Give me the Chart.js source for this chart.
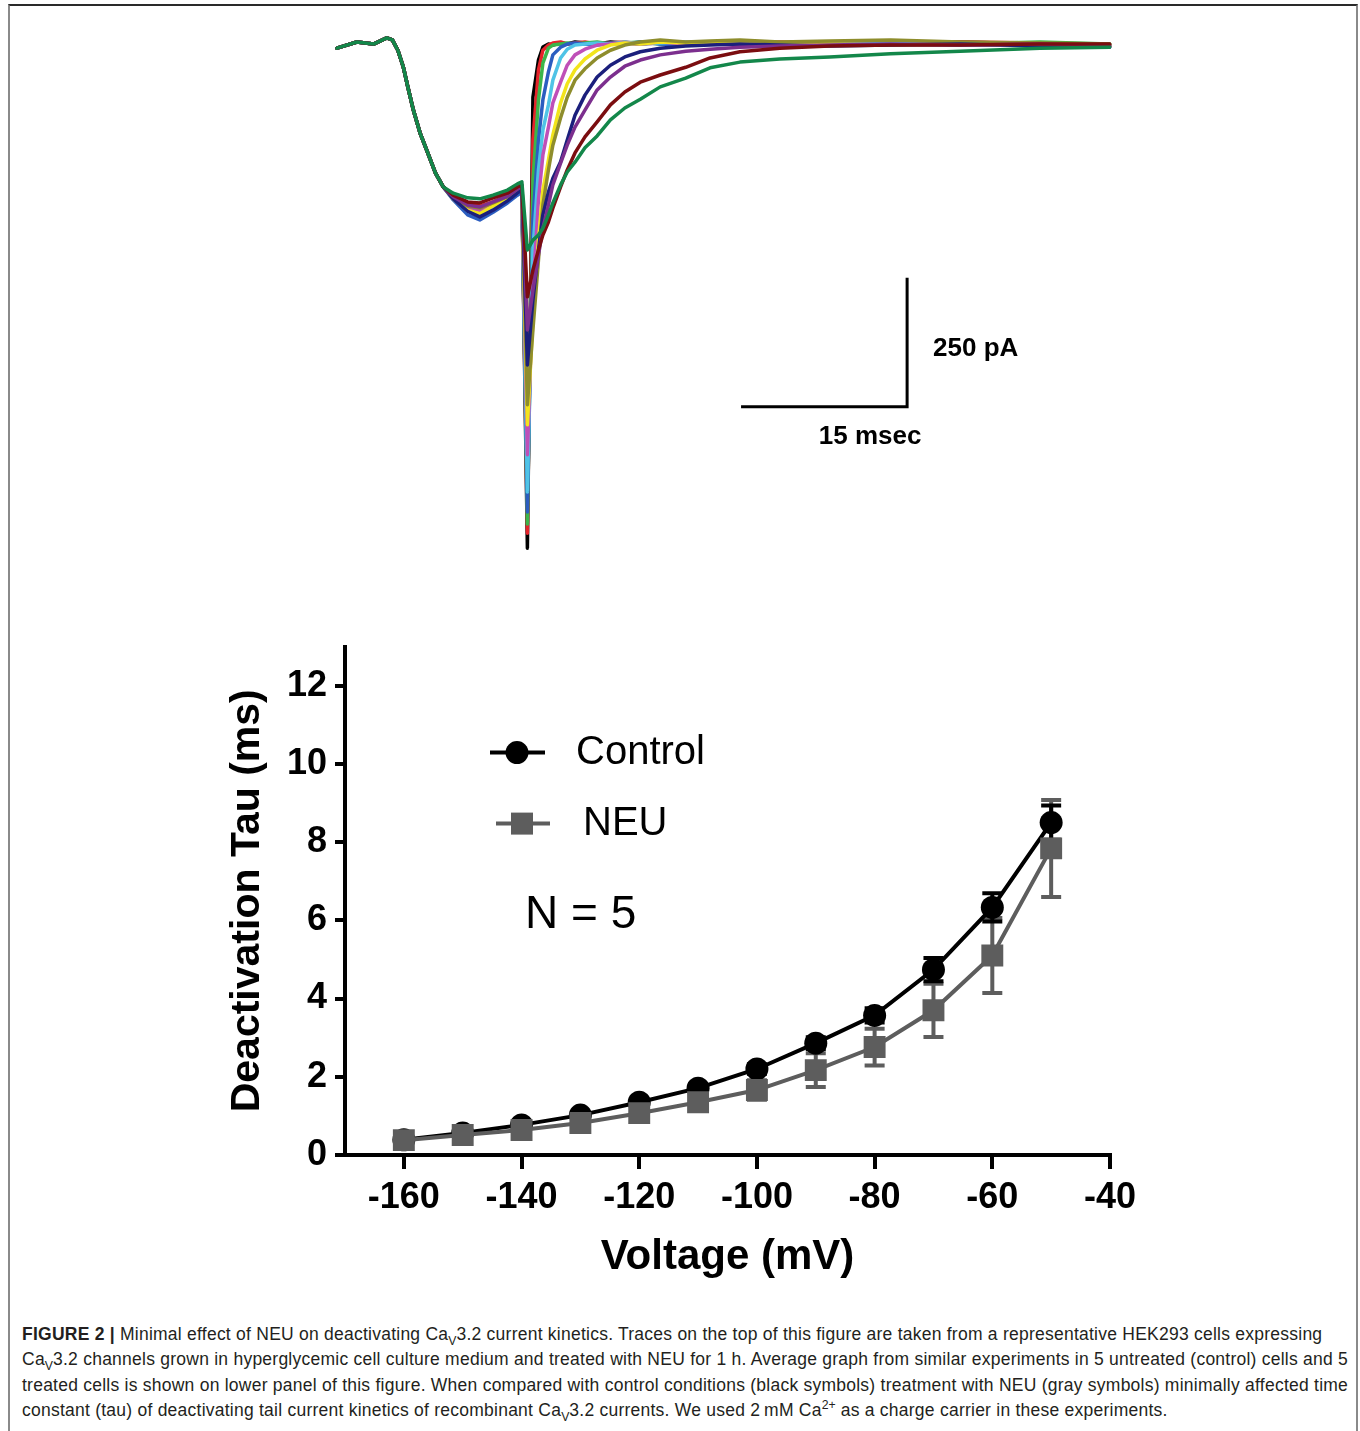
<!DOCTYPE html>
<html>
<head>
<meta charset="utf-8">
<script src="https://cdn.jsdelivr.net/npm/chart.js@4.4.1/dist/chart.umd.min.js"></script>
<style>
  html, body { margin: 0; padding: 0; background: #fff; }
  body { width: 1360px; height: 1431px; position: relative; overflow: hidden; font-family: 'Liberation Sans', Arial, sans-serif; }
  #frame { position: absolute; left: 8px; top: 4px; width: 1346px; height: 1460px; border: 2px solid #8a8a8a; border-top-color: #2a2a2a; }
  #traces { position: absolute; left: 330px; top: 20px; }
  #tau { position: absolute; left: 200px; top: 617px; }
  #caption { position: absolute; left: 22px; top: 1322px; font-size: 17.5px; letter-spacing: 0.24px; line-height: 25.3px; color: #231f20; white-space: nowrap; }
  #caption sub, #caption sup { font-size: 70%; line-height: 0; letter-spacing: 0; }
</style>
</head>
<body>
<div id="frame"></div>
<canvas id="traces" width="790" height="540"></canvas>
<canvas id="tau" width="960" height="673"></canvas>
<div id="caption">
  <b>FIGURE 2 |</b> Minimal effect of NEU on deactivating Ca<sub>V</sub>3.2 current kinetics. Traces on the top of this figure are taken from a representative HEK293 cells expressing<br>
  Ca<sub>V</sub>3.2 channels grown in hyperglycemic cell culture medium and treated with NEU for 1 h. Average graph from similar experiments in 5 untreated (control) cells and 5<br>
  treated cells is shown on lower panel of this figure. When compared with control conditions (black symbols) treatment with NEU (gray symbols) minimally affected time<br>
  constant (tau) of deactivating tail current kinetics of recombinant Ca<sub>V</sub>3.2 currents. We used 2&#8201;mM Ca<sup>2+</sup> as a charge carrier in these experiments.
</div>
<script>
// ── top panel: tail current sweeps ────────────────────────────
// sample times (ms): activation, plateau, tail peak, decay
const timeMs = [0, 1.8, 3.3, 4.5, 5.0, 5.5, 6.0, 6.4, 6.9, 7.5, 8.2, 8.9, 9.6,
  10.5, 11.8, 12.9, 14.1, 15.4, 16.3, 16.7, 17.2,
  17.7, 18.2, 18.6, 19.1, 19.5, 20.2, 20.8, 21.5, 22.4, 23.5, 24.7, 26.0, 27.4,
  29.2, 31.5, 33.7, 36.4, 40.0, 44.5, 50.0, 56.3, 63.5, 69.8];
// activation phase, common to every sweep (pA)
const onsetPA = [-10, 2, -2, 10, 6, -14, -47, -85, -130, -174, -213, -252, -279];

// plateau + tail, one array per repolarisation step (pA)
const tailM50 = [-291, -300, -302, -295, -285, -273, -269, -401,
  -382, -372, -359, -333, -310, -275, -250, -231, -203, -180, -149, -126, -109, -85, -68, -48, -37, -31, -27, -21, -16, -10, -8];
const tailM60 = [-295, -308, -310, -300, -291, -279, -275, -492,
  -440, -401, -372, -347, -320, -279, -246, -213, -182, -153, -120, -95, -76, -62, -47, -29, -17, -10, -6, -4, -4, -2, -2];
const tailM70 = [-298, -314, -318, -308, -297, -283, -279, -556,
  -479, -411, -359, -314, -275, -233, -198, -163, -130, -91, -66, -45, -33, -23, -16, -12, -8, -6, -4, -2, -4, -2, -6];
const tailM80 = [-302, -326, -337, -324, -306, -291, -285, -624,
  -498, -401, -333, -289, -262, -230, -188, -140, -101, -66, -43, -27, -17, -10, -6, -4, -2, -4, -6, -4, -2, -6, -8];
const tailM90 = [-298, -316, -320, -310, -298, -285, -281, -701,
  -556, -421, -314, -246, -198, -145, -105, -72, -50, -29, -14, -4, 2, 6, 2, 4, 6, 2, 4, 6, 2, 0, -2];
const tailM100 = [-302, -324, -331, -316, -302, -289, -283, -740,
  -537, -382, -285, -227, -178, -116, -79, -52, -31, -14, -4, 0, -2, 2, 0, -2, 2, 0, -2, -4, -2, -4, -6];
const tailM110 = [-300, -320, -324, -314, -300, -287, -283, -798,
  -479, -304, -217, -163, -116, -76, -43, -23, -12, -4, -2, 0, -2, 2, -2, 0, -2, 0, -2, -4, -2, -4, -6];
const tailM120 = [-302, -326, -335, -322, -304, -291, -285, -870,
  -401, -246, -169, -120, -72, -29, -12, -4, -2, 0, -2, 2, -2, 0, 2, -2, 0, -4, -2, 0, -2, -4, -6];
const tailM130 = [-304, -333, -343, -328, -310, -295, -289, -909,
  -343, -188, -110, -56, -23, -8, -2, 0, -2, -4, 0, -2, 2, -2, -4, 0, -2, -4, 0, -2, -4, -2, -6];
const tailM140 = [-297, -316, -324, -314, -298, -285, -281, -932,
  -266, -110, -39, -10, -4, -2, 0, -2, 0, 2, -2, 0, 2, -2, 0, 2, -2, 0, 2, 0, -2, 2, -2];
const tailM150 = [-297, -312, -316, -308, -295, -283, -279, -950,
  -188, -52, -14, -4, 0, 2, -2, 0, 2, -2, 0, 2, -2, 0, 2, -2, 0, 2, 0, -2, 2, 0, -4];
const tailM160 = [-298, -314, -320, -310, -297, -285, -281, -979,
  -105, -33, -8, -2, -4, 0, -2, 2, 0, -2, 2, 0, -2, 2, 0, -2, 2, 0, -2, 0, 2, -2, -4];

const sweepTails = [tailM50, tailM60, tailM70, tailM80, tailM90, tailM100, tailM110, tailM120, tailM130, tailM140, tailM150, tailM160];
const sweepColors = ['#13874a', '#7b0d10', '#7c2f8e', '#1b1f7c', '#8e8d2c', '#f2e41c', '#bf4fb8', '#4fc3e6', '#2b5dc0', '#3bb54a', '#e5232a', '#000000'];

// scale bar: 15 ms x 250 pA, corner anchored at (ms, pA)
const barMs = 15, barPA = 250, barCornerMs = 51.5, barCornerPA = -705;

const sweepSets = sweepTails.map((tail, k) => ({
  data: timeMs.map((t, i) => ({ x: t, y: i < onsetPA.length ? onsetPA[i] : tail[i - onsetPA.length] })),
  borderColor: sweepColors[k], borderWidth: 3.5, pointRadius: 0
}));
const barSet = {
  data: [{ x: barCornerMs - barMs, y: barCornerPA }, { x: barCornerMs, y: barCornerPA }, { x: barCornerMs, y: barCornerPA + barPA }],
  borderColor: '#000', borderWidth: 3, pointRadius: 0, borderJoinStyle: 'miter', borderCapStyle: 'butt'
};

const barLabels = {
  id: 'barLabels',
  afterDatasetsDraw(chart) {
    const { ctx, scales: { x, y } } = chart;
    const cx = x.getPixelForValue(barCornerMs), cy = y.getPixelForValue(barCornerPA);
    const topY = y.getPixelForValue(barCornerPA + barPA);
    ctx.save();
    ctx.fillStyle = '#000';
    ctx.font = "bold 26px 'Liberation Sans', Arial, sans-serif";
    ctx.textBaseline = 'middle';
    ctx.textAlign = 'left';
    ctx.fillText(barPA + ' pA', cx + 26, (cy + topY) / 2 + 7);
    ctx.textAlign = 'center';
    ctx.fillText(barMs + ' msec', cx - 37, cy + 30);
    ctx.restore();
  }
};

new Chart(document.getElementById('traces'), {
  type: 'line',
  data: { datasets: [...sweepSets, barSet] },
  options: {
    responsive: false, animation: false, events: [],
    layout: { padding: 0 },
    plugins: { legend: { display: false }, tooltip: { enabled: false } },
    elements: { line: { tension: 0, borderJoinStyle: 'round', borderCapStyle: 'round' } },
    scales: {
      x: { type: 'linear', display: false, min: -0.63, max: 70.73 },
      y: { type: 'linear', display: false, min: -1002, max: 44.6 }
    }
  },
  plugins: [barLabels]
});

// ── bottom panel: deactivation tau vs voltage ────────────────
const voltages = [-160, -150, -140, -130, -120, -110, -100, -90, -80, -70, -60, -50];
const tauControl = [0.39, 0.56, 0.77, 1.02, 1.35, 1.71, 2.20, 2.86, 3.57, 4.74, 6.33, 8.50];
const semControl = [0.04, 0.04, 0.05, 0.06, 0.08, 0.10, 0.12, 0.15, 0.18, 0.30, 0.36, 0.44];
const tauNEU = [0.38, 0.51, 0.64, 0.82, 1.07, 1.35, 1.66, 2.17, 2.76, 3.70, 5.10, 7.84];
const semNEU = [0.05, 0.05, 0.06, 0.08, 0.10, 0.15, 0.25, 0.43, 0.47, 0.68, 0.96, 1.24];
const nCells = 5;

const errorBars = {
  id: 'errorBars',
  beforeDatasetsDraw(chart) {
    const { ctx, scales: { x, y } } = chart;
    chart.data.datasets.forEach(ds => {
      ctx.save();
      ctx.strokeStyle = ds.borderColor;
      ctx.lineWidth = 4;
      ds.data.forEach((p, i) => {
        const px = x.getPixelForValue(p.x);
        const hi = y.getPixelForValue(p.y + ds.sem[i]), lo = y.getPixelForValue(p.y - ds.sem[i]);
        ctx.beginPath();
        ctx.moveTo(px, hi); ctx.lineTo(px, lo);
        ctx.moveTo(px - 10, hi); ctx.lineTo(px + 10, hi);
        ctx.moveTo(px - 10, lo); ctx.lineTo(px + 10, lo);
        ctx.stroke();
      });
      ctx.restore();
    });
  }
};

const tauLegend = {
  id: 'tauLegend',
  afterDraw(chart) {
    const { ctx, chartArea: { left: L, top: T } } = chart;
    ctx.save();
    ctx.lineWidth = 4;
    // Control
    ctx.strokeStyle = '#000'; ctx.fillStyle = '#000';
    ctx.beginPath(); ctx.moveTo(L + 145, T + 106); ctx.lineTo(L + 200, T + 106); ctx.stroke();
    ctx.beginPath(); ctx.arc(L + 172, T + 106, 11.5, 0, Math.PI * 2); ctx.fill();
    // NEU
    ctx.strokeStyle = '#5d5d5d'; ctx.fillStyle = '#5d5d5d';
    ctx.beginPath(); ctx.moveTo(L + 151, T + 177); ctx.lineTo(L + 205, T + 177); ctx.stroke();
    ctx.fillRect(L + 166, T + 166, 22, 22);
    ctx.fillStyle = '#000';
    ctx.textBaseline = 'middle'; ctx.textAlign = 'left';
    ctx.font = "40px 'Liberation Sans', Arial, sans-serif";
    ctx.fillText('Control', L + 231, T + 106);
    ctx.fillText('NEU', L + 238, T + 177);
    ctx.font = "46px 'Liberation Sans', Arial, sans-serif";
    ctx.fillText('N = ' + nCells, L + 180, T + 269);
    ctx.restore();
  }
};

const boldTick = { size: 36, weight: 'bold', family: "'Liberation Sans', Arial, sans-serif" };

new Chart(document.getElementById('tau'), {
  type: 'line',
  data: {
    datasets: [
      {
        label: 'NEU', data: voltages.map((v, i) => ({ x: v, y: tauNEU[i] })), sem: semNEU,
        borderColor: '#5d5d5d', backgroundColor: '#5d5d5d', borderWidth: 4,
        pointStyle: 'rect', pointRadius: 15.5, pointBorderWidth: 0, pointBackgroundColor: '#5d5d5d'
      },
      {
        label: 'Control', data: voltages.map((v, i) => ({ x: v, y: tauControl[i] })), sem: semControl,
        borderColor: '#000', backgroundColor: '#000', borderWidth: 4,
        pointStyle: 'circle', pointRadius: 11.5, pointBorderWidth: 0, pointBackgroundColor: '#000'
      }
    ]
  },
  options: {
    responsive: false, animation: false, events: [],
    layout: { padding: { top: 0, right: 50, left: 0, bottom: 0 } },
    plugins: { legend: { display: false }, tooltip: { enabled: false } },
    elements: { line: { tension: 0 } },
    scales: {
      x: {
        type: 'linear', min: -170, max: -40,
        afterFit(s) { s.height = 135; },
        ticks: { stepSize: 20, includeBounds: false, color: '#000', font: boldTick, padding: 7, maxRotation: 0 },
        grid: { drawOnChartArea: false, drawTicks: true, tickLength: 14, tickWidth: 4, lineWidth: 4, tickColor: '#000', color: '#000' },
        border: { display: true, color: '#000', width: 4 },
        title: { display: true, text: 'Voltage (mV)', color: '#000', font: { size: 42, weight: 'bold' }, padding: { top: 0, bottom: 7 } }
      },
      y: {
        type: 'linear', min: 0, max: 13,
        afterFit(s) { s.width = 145; },
        ticks: { stepSize: 2, includeBounds: false, color: '#000', font: boldTick, padding: 8 },
        grid: { drawOnChartArea: false, drawTicks: true, tickLength: 10, tickWidth: 4, lineWidth: 4, tickColor: '#000', color: '#000' },
        border: { display: true, color: '#000', width: 4 },
        title: { display: true, text: 'Deactivation Tau (ms)', color: '#000', font: { size: 41, weight: 'bold' }, padding: { top: 23, bottom: 0 } }
      }
    }
  },
  plugins: [errorBars, tauLegend]
});
</script>
</body>
</html>
